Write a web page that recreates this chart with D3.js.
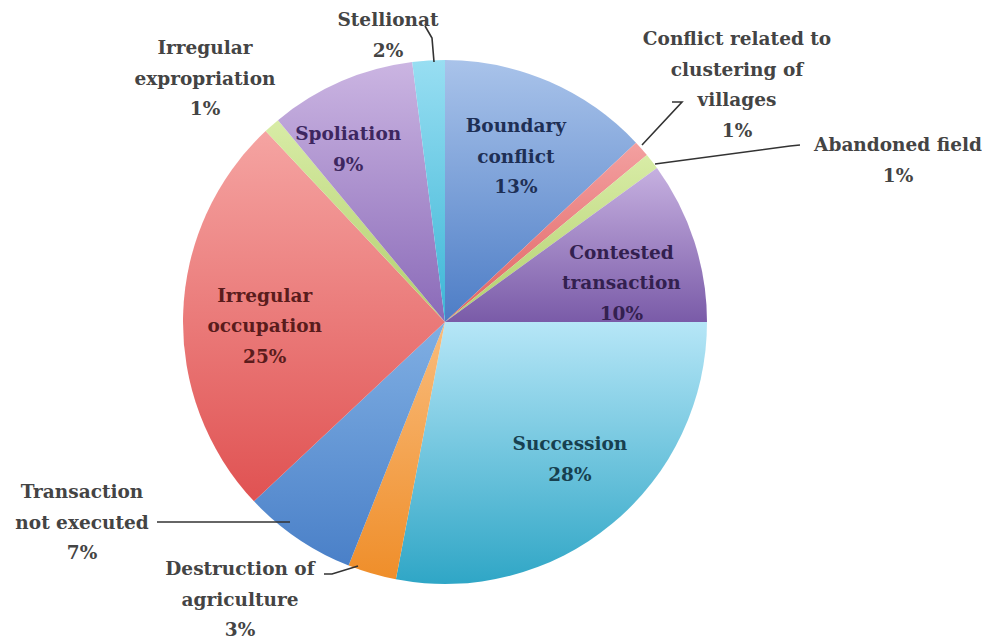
<!DOCTYPE html>
<meta charset="utf-8">
<style>
    body { margin: 0; background: #fff; }
    text { font-family: "DejaVu Serif", serif; font-size: 18.5px; font-weight: bold; }
    .out text { fill: #444; }
    .leader { fill: none; stroke: #333; stroke-width: 1.6; }
</style>
<script src="https://d3js.org/d3.v7.min.js"></script>
<svg width="992" height="641"></svg>
<script>
    // slices clockwise from 12 o'clock
    let labels = ["Boundary conflict", "Conflict related to clustering of villages", "Abandoned field",
        "Contested transaction", "Succession", "Destruction of agriculture", "Transaction not executed",
        "Irregular occupation", "Irregular expropriation", "Spoliation", "Stellionat"];
    let values = [13, 1, 1, 10, 28, 3, 7, 25, 1, 9, 2];
    let lightColors = ["#a9c3ea", "#f3a0a0", "#d8eca6", "#c6b0e0", "#b6e6f7", "#f9bc7c", "#80afe3", "#f5a4a2", "#d8eca6", "#cbb5e2", "#98def2"];
    let darkColors = ["#4d7dc6", "#e06262", "#b2cf6e", "#7a5ba8", "#2fa6c6", "#ef8e2a", "#4a80c8", "#e05252", "#b2cf6e", "#8a6ab8", "#3cb6d6"];
    let textColors = ["#1e2f55", "#444", "#444", "#33204f", "#17404f", "#444", "#444", "#5a1c1c", "#444", "#3d2760", "#444"];

    // label text lines (inside or outside)
    let lines = [["Boundary", "conflict", "13%"], ["Conflict related to", "clustering of", "villages", "1%"],
        ["Abandoned field", "1%"], ["Contested", "transaction", "10%"], ["Succession", "28%"],
        ["Destruction of", "agriculture", "3%"], ["Transaction", "not executed", "7%"],
        ["Irregular", "occupation", "25%"], ["Irregular", "expropriation", "1%"], ["Spoliation", "9%"],
        ["Stellionat", "2%"]];

    let svg = d3.select("svg");
    let cx = 445, cy = 322, R = 262;
    let lineH = 30.5;

    // nudges for inside labels
    let nudge = {0: [-2, 2], 3: [2, 17], 4: [8, -5], 7: [3, 9], 9: [-24, -5]};

    // outside label layout: centre x, first baseline y, leader path (label end -> pie)
    let outside = {
        1: {x: 737, y: 45, leader: [[672, 102], [682, 102], [642, 145]]},
        2: {x: 898, y: 151, leader: [[800, 145], [790, 146], [655, 164]]},
        5: {x: 240, y: 575, leader: [[324, 574], [332, 574], [358, 566]]},
        6: {x: 82, y: 498, leader: [[157, 522], [290, 522]]},
        8: {x: 205, y: 54, leader: null},
        10: {x: 388, y: 26, leader: [[425, 26], [432, 38], [434, 62]]}
    };

    let pie = d3.pie().value(function(d) { return d; }).sort(null);
    let arc = d3.arc().innerRadius(0).outerRadius(R);
    let labelArc = d3.arc().innerRadius(R * 0.7).outerRadius(R * 0.7);
    let arcs = pie(values);

    let defs = svg.append("defs");
    arcs.forEach(function(d, i) {
        let g = defs.append("linearGradient")
            .attr("id", "grad-" + i)
            .attr("x1", 0).attr("y1", 0).attr("x2", 0).attr("y2", 1);
        g.append("stop").attr("offset", "0%").attr("stop-color", lightColors[i]);
        g.append("stop").attr("offset", "100%").attr("stop-color", darkColors[i]);
    });

    let chart = svg.append("g").attr("transform", "translate(" + cx + "," + cy + ")");

    chart.selectAll("path.slice")
        .data(arcs)
        .enter().append("path")
        .attr("class", "slice")
        .attr("d", arc)
        .attr("fill", function(d, i) { return "url(#grad-" + i + ")"; });

    // inside labels
    arcs.forEach(function(d, i) {
        if (outside[i]) return;
        let c = labelArc.centroid(d);
        let n = nudge[i] || [0, 0];
        let ls = lines[i];
        let t = chart.append("text")
            .attr("text-anchor", "middle")
            .attr("fill", textColors[i]);
        ls.forEach(function(s, k) {
            t.append("tspan")
                .attr("x", c[0] + n[0])
                .attr("y", c[1] + n[1] + (k - (ls.length - 1) / 2) * lineH + 7)
                .text(s);
        });
    });

    // outside labels and leaders
    let out = svg.append("g").attr("class", "out");
    Object.keys(outside).forEach(function(key) {
        let o = outside[key];
        let t = out.append("text").attr("text-anchor", "middle");
        lines[key].forEach(function(s, k) {
            t.append("tspan").attr("x", o.x).attr("y", o.y + k * lineH).text(s);
        });
        if (o.leader) {
            out.append("path")
                .attr("class", "leader")
                .attr("d", d3.line()(o.leader));
        }
    });
</script>
